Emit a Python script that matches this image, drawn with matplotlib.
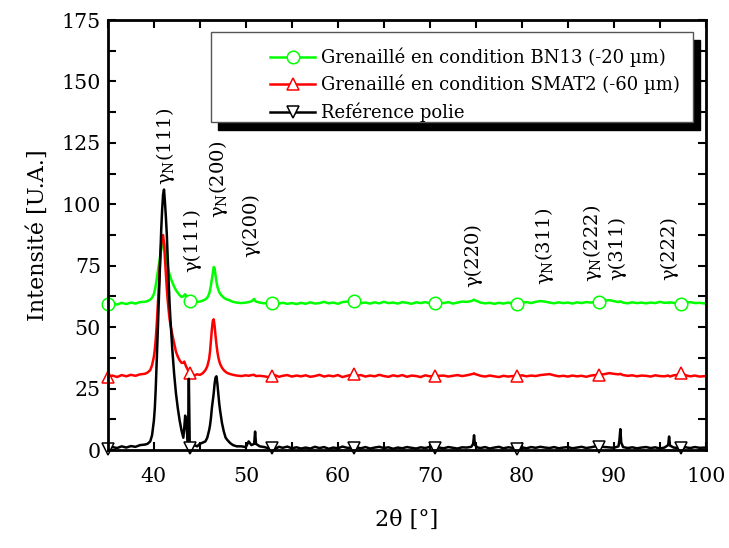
import matplotlib
matplotlib.use('Agg')
import matplotlib.pyplot as plt
from matplotlib.patches import Rectangle

plt.rcParams['font.family'] = 'DejaVu Serif'
plt.rcParams['mathtext.fontset'] = 'dejavuserif'

# 2theta grid (deg)
two_theta = [35.0, 35.5, 36.0, 36.5, 37.0, 37.5, 38.0, 38.5, 39.0, 39.3,
             39.6, 39.8, 40.0, 40.1, 40.2, 40.3, 40.4, 40.5, 40.6, 40.7,
             40.8, 40.9, 41.0, 41.1, 41.2, 41.3, 41.4, 41.5, 41.6, 41.7,
             41.8, 41.9, 42.0, 42.2, 42.4, 42.6, 42.8, 43.0, 43.2, 43.3,
             43.4, 43.5, 43.7, 43.8, 43.9, 44.1, 44.4, 44.7, 45.0, 45.3,
             45.6, 45.8, 46.0, 46.1, 46.2, 46.3, 46.4, 46.5, 46.6, 46.7,
             46.8, 46.9, 47.0, 47.1, 47.2, 47.4, 47.6, 47.8, 48.0, 48.3,
             48.6, 49.0, 49.5, 50.0, 50.3, 50.6, 50.9, 51.0, 51.1, 51.5,
             52.0, 52.4, 52.8, 53.2, 53.6, 54.0, 54.5, 55.0, 55.5, 56.0,
             56.5, 57.0, 57.5, 58.0, 58.5, 59.0, 59.5, 60.0, 60.5, 61.0,
             61.7, 62.0, 62.5, 63.0, 63.5, 64.0, 64.5, 65.0, 65.5, 66.0,
             66.5, 67.0, 67.5, 68.0, 68.5, 69.0, 69.5, 70.0, 70.6, 71.0,
             71.5, 72.0, 72.5, 73.0, 73.5, 74.0, 74.5, 74.7, 74.8, 74.9,
             75.2, 75.5, 76.0, 76.5, 77.0, 77.5, 78.0, 78.5, 79.0, 79.5,
             80.0, 80.5, 81.0, 81.5, 82.0, 82.5, 83.0, 83.5, 84.0, 84.5,
             85.0, 85.5, 86.0, 86.5, 87.0, 87.5, 88.0, 88.4, 89.0, 89.5,
             90.0, 90.5, 90.6, 90.7, 90.8, 91.0, 91.5, 92.0, 92.5, 93.0,
             93.5, 94.0, 94.5, 95.0, 95.5, 95.9, 96.0, 96.1, 96.5, 97.0,
             97.3, 97.8, 98.3, 98.8, 99.3, 100.0]

bn13 = [59.5, 59.8, 59.2, 59.9, 59.4, 60.0, 59.6, 60.2, 60.3, 60.6,
        61.2, 62.0, 63.5, 65.0, 67.0, 69.5, 72.0, 74.5, 77.0, 79.5,
        81.5, 83.5, 85.0, 84.5, 82.5, 80.0, 77.5, 75.0, 73.0, 71.5,
        70.3, 69.2, 68.3, 66.5, 65.0, 64.0, 63.0, 62.3, 62.5, 63.0,
        63.4, 62.8, 61.5, 61.0, 60.5, 60.2, 60.0, 60.3, 60.4, 60.8,
        61.3, 62.0, 63.5, 65.0, 67.0, 69.5, 72.0, 74.5, 74.0, 71.0,
        68.5, 66.5, 65.3, 64.3, 63.6, 62.7, 62.0, 61.5, 61.2, 60.8,
        60.3, 60.0, 59.8, 60.0, 60.2, 60.5, 61.5, 60.8, 60.4, 60.0,
        59.7, 60.0, 59.8, 60.2, 59.6, 59.9, 59.5, 59.8, 59.4, 59.9,
        59.5, 60.1, 59.6, 59.8, 60.3, 59.7, 60.0, 59.5, 60.2, 60.4,
        60.5, 60.2, 59.8, 60.0, 59.6, 60.1, 59.7, 60.3, 59.8, 60.0,
        59.6, 60.2, 59.9, 59.5, 60.1, 59.8, 60.2, 59.7, 59.9, 60.1,
        59.8, 60.2, 59.6, 60.0, 60.4, 60.3, 60.6, 61.0, 61.2, 60.9,
        60.5, 60.0, 59.7, 59.9, 59.5, 59.9, 59.6, 60.0, 59.7, 59.6,
        59.9, 60.2, 59.8, 60.3, 60.6, 60.4, 60.0, 59.7, 60.1, 59.8,
        60.0, 59.6, 60.1, 59.8, 60.2, 60.0, 60.4, 60.3, 60.8, 61.0,
        60.6, 60.2, 60.4, 60.5, 60.3, 60.0, 59.7, 60.1, 59.8, 60.0,
        59.7, 60.0, 59.8, 60.3, 59.9, 60.0, 59.8, 60.1, 59.9, 59.6,
        59.5, 59.9, 60.2, 59.8, 59.9, 59.6]

smat2 = [29.8, 30.3, 29.7, 30.5, 30.0, 30.6, 30.2, 30.8, 31.0, 31.5,
         32.5, 34.5, 38.0, 41.0, 45.0, 50.5, 57.0, 64.0, 71.5, 78.5,
         84.0, 87.0, 87.5, 84.0, 78.0, 72.0, 66.0, 61.0, 57.0, 53.5,
         51.0, 49.0, 47.0, 43.5, 40.0, 38.0, 36.5, 35.5, 35.5, 36.0,
         35.0, 34.0, 32.5, 31.8, 31.2, 30.8, 30.4, 30.8, 30.6, 31.2,
         32.5, 34.0, 37.0, 40.0, 44.5, 49.0, 52.5, 53.2, 50.5, 46.5,
         43.0, 40.0, 37.8, 36.2, 35.0, 33.5, 32.5, 31.8, 31.3, 30.9,
         30.6, 30.3, 30.1, 30.4, 30.2, 30.5, 30.6, 30.3, 30.1, 30.2,
         30.0, 29.7, 30.1, 30.4, 29.8, 30.2, 30.5, 29.9, 30.3, 30.0,
         30.4, 29.8, 30.1, 30.6, 29.9, 30.3, 30.0, 30.5, 29.7, 30.2,
         30.8, 30.2, 30.5, 29.9, 30.3, 30.0, 30.6, 30.1, 29.8, 30.4,
         30.0, 30.5, 29.8, 30.3, 30.1, 29.7, 30.4, 30.0, 30.3, 30.2,
         30.3, 29.9, 30.2, 30.5, 30.1, 30.4, 30.8, 31.0, 31.2, 30.9,
         30.6, 30.2, 29.9, 30.3, 30.0, 29.7, 30.2, 29.9, 30.1, 30.0,
         30.4, 30.0, 30.3, 30.1, 30.5, 30.7, 30.9, 30.4, 30.0, 30.2,
         29.9, 30.3, 30.0, 30.2, 29.8, 30.3, 30.5, 30.6, 30.9, 31.3,
         31.0, 30.8, 30.9, 31.0, 30.8, 30.5, 30.2, 30.4, 30.0, 30.3,
         30.2, 29.9, 30.4, 30.1, 30.0, 30.3, 30.1, 29.9, 30.4, 30.6,
         31.3, 30.4, 30.0, 30.3, 29.9, 30.1]

ref_polie = [0.5, 1.2, 0.8, 1.5, 1.0, 1.6, 1.3, 2.0, 2.2, 2.5,
             3.5, 6.0, 12.0, 17.0, 25.0, 35.0, 46.0, 57.0, 69.0, 80.0,
             90.0, 98.0, 104.0, 106.0, 101.0, 95.0, 88.0, 78.0, 69.0, 60.0,
             53.0, 47.0, 41.0, 31.0, 23.0, 17.0, 12.0, 8.0, 5.0, 9.0,
             14.0, 11.0, 3.0, 29.0, 1.0, 1.5, 2.0, 1.5, 2.5, 3.0,
             3.5, 5.0, 8.0, 10.0, 13.0, 17.0, 20.0, 23.0, 27.0, 29.5,
             30.0, 27.0, 23.0, 19.0, 16.0, 11.0, 7.5, 5.0, 4.0, 2.8,
             2.0, 1.5, 1.5, 1.2, 3.5, 2.0, 2.5, 7.5, 2.5, 1.5,
             1.2, 0.8, 1.0, 0.5, 1.3, 0.9, 1.4, 0.7, 1.1, 0.6,
             1.0, 0.6, 1.3, 0.8, 1.2, 0.5, 1.0, 0.7, 1.4, 0.9,
             0.8, 1.1, 0.7, 1.2, 0.6, 1.0, 1.3, 0.8, 1.1, 0.5,
             1.0, 0.7, 1.2, 0.9, 0.6, 1.1, 0.8, 1.3, 0.8, 1.0,
             0.7, 1.2, 0.9, 0.6, 1.1, 1.0, 1.3, 2.5, 6.0, 2.0,
             1.0, 0.8, 1.2, 0.6, 1.0, 1.3, 0.7, 1.1, 0.9, 0.6,
             1.1, 0.7, 1.2, 0.9, 1.3, 1.0, 0.8, 1.2, 0.7, 1.0,
             1.2, 0.7, 1.0, 1.3, 0.8, 1.1, 1.5, 1.4, 1.2, 1.0,
             0.9, 1.5, 4.0, 8.5, 3.0, 1.2, 0.8, 1.1, 0.7, 1.0,
             1.2, 0.8, 1.1, 0.6, 1.0, 2.0, 5.5, 1.8, 1.0, 0.8,
             0.7, 1.1, 0.8, 1.2, 0.9, 1.0]

mark_x = [35.0, 43.9, 52.8, 61.7, 70.6, 79.5, 88.4, 97.3]

series_labels = ['Grenaillé en condition BN13 (-20 µm)',
                 'Grenaillé en condition SMAT2 (-60 µm)',
                 'Reférence polie']

peak_labels = [r'γ$_\mathrm{N}$(111)', 'γ(111)', r'γ$_\mathrm{N}$(200)', 'γ(200)',
               'γ(220)', r'γ$_\mathrm{N}$(311)', r'γ$_\mathrm{N}$(222)', 'γ(311)', 'γ(222)']
peak_x = [41.3, 44.2, 47.0, 50.6, 74.7, 82.5, 87.7, 90.4, 96.0]
peak_y = [108, 72.5, 94.4, 78.5, 66.3, 67, 68.4, 69, 69]

marks = [two_theta.index(v) for v in mark_x]

fig = plt.figure(figsize=(7.29, 5.48), dpi=100)
ax = fig.add_axes([0.148, 0.1788, 0.8203, 0.7847])

styles = [(bn13, '#00ff00', 'o'), (smat2, '#ff0000', '^'), (ref_polie, 'black', 'v')]
handles = []
for (y, col, mk), lab in zip(styles, series_labels):
    h, = ax.plot(two_theta, y, color=col, lw=1.8, marker=mk, markevery=marks,
                 ms=9, mfc='white', mec=col, mew=1.1, label=lab, clip_on=False)
    handles.append(h)

for t, px, py in zip(peak_labels, peak_x, peak_y):
    ax.text(px, py, t, rotation=90, ha='center', va='bottom', fontsize=14)

ax.set_xlim(35, 100)
ax.set_ylim(0, 175)
ax.set_xticks(range(40, 101, 10))
ax.set_xticks(range(35, 101, 5), minor=True)
ax.set_yticks(range(0, 176, 25))
ax.set_yticks([12.5 + 25 * i for i in range(7)], minor=True)
ax.tick_params(which='both', direction='in', top=True, right=True, length=6, width=1.5)
ax.tick_params(axis='x', which='major', labelsize=14.8, pad=12)
ax.tick_params(axis='y', which='major', labelsize=14.8, pad=5)
for s in ax.spines.values():
    s.set_linewidth(2)

ax.set_xlabel('2θ [°]', fontsize=16, labelpad=17)
ax.set_ylabel('Intensité [U.A.]', fontsize=16, labelpad=9)

# legend box with shadow
x0, y0, w, hgt = 0.172, 0.763, 0.806, 0.209
ax.add_patch(Rectangle((x0 + 7 / 598, y0 - 8 / 430), w, hgt, transform=ax.transAxes,
                       fc='black', ec='black', zorder=4, clip_on=False))
ax.add_patch(Rectangle((x0, y0), w, hgt, transform=ax.transAxes,
                       fc='white', ec='#555555', lw=1, zorder=5, clip_on=False))
leg = ax.legend(handles=handles, loc='upper left', bbox_to_anchor=(0.271, 0.936),
                frameon=False, borderpad=0, borderaxespad=0, handlelength=2.5,
                handletextpad=0.3, labelspacing=0.44, fontsize=13, numpoints=1)
leg.set_zorder(6)

fig.savefig('out.png', dpi=100)
